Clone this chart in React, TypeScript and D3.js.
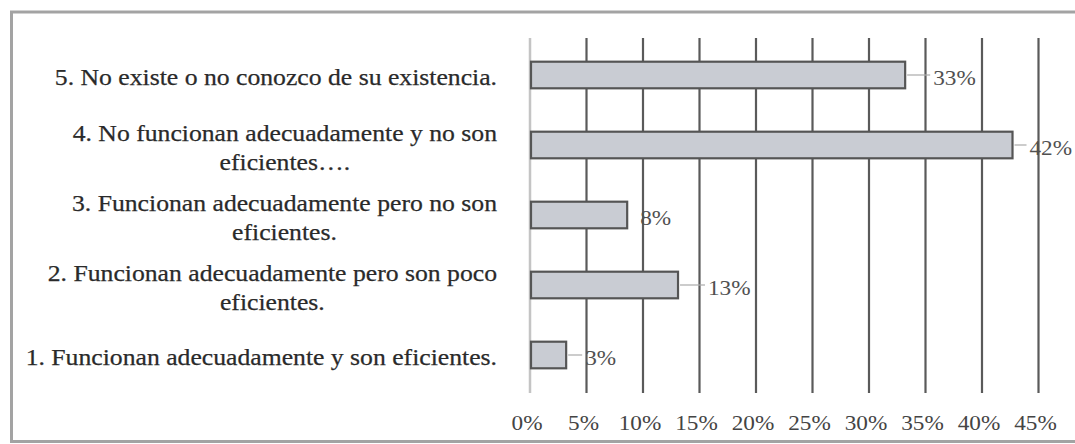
import React, { useEffect, useRef } from "react";
import * as d3 from "d3";

const categories: string[][] = [
  ["5. No existe o no conozco de su existencia."],
  ["4. No funcionan adecuadamente y no son", "eficientes…."],
  ["3. Funcionan adecuadamente pero no son", "eficientes."],
  ["2. Funcionan adecuadamente pero son poco", "eficientes."],
  ["1. Funcionan adecuadamente y son eficientes."],
];
const values: number[] = [0.332, 0.427, 0.086, 0.131, 0.032];
const valueLabels: string[] = ["33%", "42%", "8%", "13%", "3%"];
const ticks: number[] = [0, 0.05, 0.1, 0.15, 0.2, 0.25, 0.3, 0.35, 0.4, 0.45];

// layout (px) — not data
const labelGap = [28, 17, 13, 30, 19];
const leader = [true, true, false, true, true];
const STRETCH = 1.08;
const CAT_STRETCH = 1.07;

export default function App() {
  const ref = useRef<SVGSVGElement>(null);

  useEffect(() => {
    const svg = d3.select(ref.current);
    svg.selectAll("*").remove();
    const W = 1075, H = 444;
    const font = "'Liberation Serif', 'Times New Roman', serif";

    const stretch = (sel: d3.Selection<SVGTextElement, any, any, any>) => {
      sel.each(function () {
        const w = this.getComputedTextLength();
        d3.select(this).attr("textLength", w * STRETCH).attr("lengthAdjust", "spacingAndGlyphs");
      });
    };

    svg.append("rect").attr("width", W).attr("height", H).attr("fill", "#fff");

    // frame
    svg.append("path")
      .attr("d", `M${W + 5},12 H11.5 V${H - 2.5} H${W + 5}`)
      .attr("fill", "none").attr("stroke", "#a3a3a3").attr("stroke-width", 3);

    const x = d3.scaleLinear().domain([0, 0.45]).range([530, 1038.5]);
    const y = d3.scaleBand<number>()
      .domain(d3.range(categories.length))
      .range([40, 390])
      .paddingInner(0.62)
      .paddingOuter(0.31);

    // gridlines
    svg.append("g").selectAll("line").data(ticks).join("line")
      .attr("x1", (d) => x(d)).attr("x2", (d) => x(d))
      .attr("y1", 38).attr("y2", 393)
      .attr("stroke", (d) => (d === 0 ? "#c4c4c4" : "#5a5a5a"))
      .attr("stroke-width", (d) => (d === 0 ? 2.5 : 2.2));

    // tick labels
    const tickText = svg.append("g").selectAll<SVGTextElement, number>("text").data(ticks).join("text")
      .attr("x", (d) => x(d) - 3).attr("y", 423)
      .attr("text-anchor", "middle").attr("dominant-baseline", "central")
      .attr("font-family", font).attr("font-size", 21.5).attr("fill", "#444")
      .text((d) => d3.format(".0%")(d));
    stretch(tickText);

    // bars
    svg.append("g").selectAll("rect").data(values).join("rect")
      .attr("x", x(0) + 1)
      .attr("y", (_d, i) => y(i)!)
      .attr("width", (d) => x(d) - x(0) - 1)
      .attr("height", y.bandwidth())
      .attr("fill", "#c9ccd3").attr("stroke", "#555").attr("stroke-width", 2.2);

    // leader lines
    const idx = d3.range(values.length).filter((i) => leader[i]);
    svg.append("g").selectAll("line").data(idx).join("line")
      .attr("x1", (i) => x(values[i]) + 2)
      .attr("x2", (i) => x(values[i]) + labelGap[i] - 3)
      .attr("y1", (i) => y(i)! + y.bandwidth() / 2)
      .attr("y2", (i) => y(i)! + y.bandwidth() / 2)
      .attr("stroke", "#aaa").attr("stroke-width", 1.2);

    // value labels
    const valText = svg.append("g").selectAll<SVGTextElement, number>("text").data(values).join("text")
      .attr("x", (d, i) => x(d) + labelGap[i])
      .attr("y", (_d, i) => y(i)! + y.bandwidth() / 2 + 3)
      .attr("dominant-baseline", "central")
      .attr("font-family", font).attr("font-size", 21.5).attr("fill", "#505050")
      .text((_d, i) => valueLabels[i]);
    stretch(valText);

    // category labels
    const right = 497;
    const lineH = 29;
    categories.forEach((lines, i) => {
      const cy = y(i)! + y.bandwidth() / 2 + 2;
      const g = svg.append("g");
      const texts = lines.map((ln, j) =>
        g.append("text")
          .attr("y", cy + (j - (lines.length - 1) / 2) * lineH)
          .attr("dominant-baseline", "central")
          .attr("text-anchor", "middle")
          .attr("font-family", font).attr("font-size", 24).attr("fill", "#2a2a2a")
          .attr("stroke", "#2a2a2a").attr("stroke-width", 0.25)
          .text(ln)
      );
      const widths = texts.map((t) => (t.node() as SVGTextElement).getComputedTextLength() * CAT_STRETCH);
      texts.forEach((t, j) => t.attr("textLength", widths[j]).attr("lengthAdjust", "spacingAndGlyphs"));
      const maxW = Math.max(...widths);
      texts.forEach((t) => t.attr("x", right - maxW / 2));
    });
  }, []);

  return (
    <svg
      ref={ref}
      width={1075}
      height={444}
      style={{ position: "absolute", left: 0, top: 0, display: "block" }}
    />
  );
}
